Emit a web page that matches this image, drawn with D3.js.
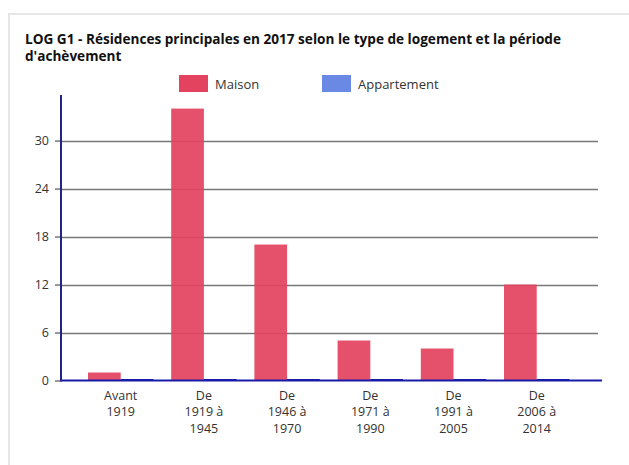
<!DOCTYPE html>
<html>
<head>
<meta charset="utf-8">
<script src="https://cdn.jsdelivr.net/npm/d3@7"></script>
<style>
  body { margin: 0; background: #fff; font-family: "Open Sans", sans-serif; }
  #card {
    position: absolute; left: 8px; top: 13px; width: 640px; height: 470px;
    border: 2px solid #e6e6e6; box-sizing: border-box; background: #fff;
  }
</style>
</head>
<body>
<div id="card"></div>
<svg id="chart" width="629" height="465" style="position:absolute;left:0;top:0"></svg>
<script>
const titleLines = ['LOG G1 - Résidences principales en 2017 selon le type de logement et la période', "d'achèvement"];
const categories = [['Avant', '1919'], ['De', '1919 à', '1945'], ['De', '1946 à', '1970'], ['De', '1971 à', '1990'], ['De', '1991 à', '2005'], ['De', '2006 à', '2014']];
const seriesNames = ['Maison', 'Appartement'];
const maison = [1, 34, 17, 5, 4, 12];
const appartement = [0, 0, 0, 0, 0, 0];
const yTicks = [0, 6, 12, 18, 24, 30];
const colors = ['#e3435f', '#6a89e5'];

const svg = d3.select('#chart');

// titre
svg.append('text')
  .attr('x', 25).attr('y', 44)
  .attr('font-size', 13.6).attr('font-weight', 'bold').attr('fill', '#111')
  .selectAll('tspan').data(titleLines).enter().append('tspan')
  .attr('x', 25).attr('dy', (d, i) => i === 0 ? 0 : 16.5)
  .text(d => d);

// légende
const legendX = [179, 322];
const leg = svg.append('g').selectAll('g').data(seriesNames).enter().append('g')
  .attr('transform', (d, i) => `translate(${legendX[i]},75)`);
leg.append('rect').attr('width', 29).attr('height', 17).attr('fill', (d, i) => colors[i]);
leg.append('text').attr('x', 36).attr('y', 13.5).attr('font-size', 13).attr('fill', '#333').text(d => d);

const plotL = 61, plotR = 602, plotT = 95, plotB = 380.5;

const y = d3.scaleLinear().domain([0, 35.7]).range([plotB, plotT]);
const x = d3.scaleBand().domain(d3.range(categories.length))
  .range([plotL, 596.4]).paddingInner(0.214).paddingOuter(0.3245);
const xSub = d3.scaleBand().domain(seriesNames).range([0, x.bandwidth()]);

// grille
svg.append('g').selectAll('line').data(yTicks.slice(1)).enter().append('line')
  .attr('x1', plotL).attr('x2', 598)
  .attr('y1', d => Math.round(y(d)) + 0.5).attr('y2', d => Math.round(y(d)) + 0.5)
  .attr('stroke', '#777').attr('stroke-width', 1.5);

// axe Y
const yAxis = svg.append('g').attr('transform', `translate(${plotL},0)`)
  .call(d3.axisLeft(y).tickValues(yTicks).tickSize(6).tickPadding(6));
yAxis.select('.domain').remove();
yAxis.selectAll('line').attr('stroke', '#777').attr('stroke-width', 1.5);
yAxis.selectAll('text').attr('font-size', 12.5).attr('fill', '#333').attr('font-family', '"Open Sans", sans-serif');

// barres
const rows = maison.map((m, i) => [m, appartement[i]]);
svg.append('g').selectAll('g').data(rows).enter().append('g')
  .attr('transform', (d, i) => `translate(${x(i)},0)`)
  .selectAll('rect').data(d => d.map((v, j) => ({ key: seriesNames[j], value: v, j })))
  .enter().append('rect')
  .attr('x', d => xSub(d.key))
  .attr('y', d => d.value > 0 ? y(d.value) : plotB - 1.5)
  .attr('width', xSub.bandwidth())
  .attr('height', d => d.value > 0 ? plotB - y(d.value) : 1.5)
  .attr('fill', d => d.value > 0 ? colors[d.j] : '#1a1aa8')
  .attr('fill-opacity', d => d.value > 0 ? 0.93 : 1);

// axe X
svg.append('line').attr('x1', plotL).attr('x2', plotR).attr('y1', plotB).attr('y2', plotB)
  .attr('stroke', '#1a1aa8').attr('stroke-width', 2);
svg.append('line').attr('x1', plotL).attr('x2', plotL).attr('y1', plotT).attr('y2', plotB + 1)
  .attr('stroke', '#22228a').attr('stroke-width', 2);

const xl = svg.append('g').selectAll('text').data(categories).enter().append('text')
  .attr('text-anchor', 'middle').attr('font-size', 12.5).attr('fill', '#333')
  .attr('x', (d, i) => x(i) + xSub.bandwidth())
  .attr('y', 400);
xl.selectAll('tspan').data(d => d).enter().append('tspan')
  .attr('x', function () { return d3.select(this.parentNode).attr('x'); })
  .attr('dy', (d, i) => i === 0 ? 0 : 16.3)
  .text(d => d);
</script>
</body>
</html>
